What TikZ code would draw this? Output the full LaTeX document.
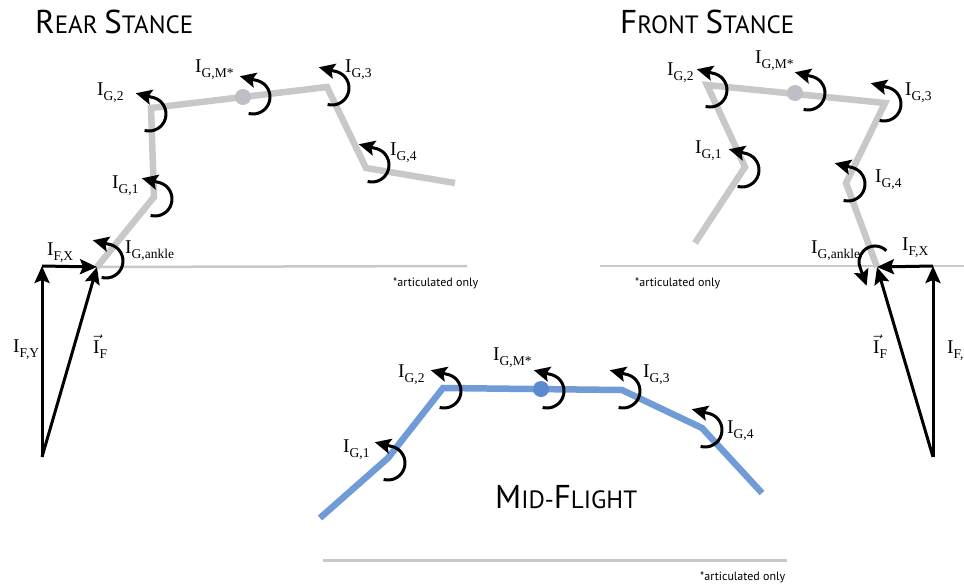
\documentclass[tikz,border=0pt]{standalone}
\usepackage{amsmath}
\usepackage{fontspec}
\setmainfont{Liberation Serif}
\newfontfamily\titlefont{PT Sans}
\usetikzlibrary{arrows.meta}

\definecolor{limbgray}{RGB}{200,200,200}
\definecolor{massgray}{RGB}{190,190,198}
\definecolor{flightblue}{RGB}{112,155,214}
\definecolor{massblue}{RGB}{92,138,206}

% impulse labels: I with a low subscript
\newcommand{\lowsub}[1]{\raisebox{-5pt}{\fontsize{13.5}{14}\selectfont #1}}
\newcommand{\imp}[1]{I\lowsub{#1}}
\newcommand{\fakesc}[2]{{\fontsize{33}{33}\selectfont #1}{\fontsize{25}{25}\selectfont #2}}
% curved moment arrow round a joint
\newcommand{\jointmoment}[1]{\draw[moment] (#1) ++(-105:17pt) arc[start angle=-105,end angle=72,radius=17pt] -- ++(166:19pt);}

\tikzset{
  limb/.style={draw=limbgray, line width=6.5pt},
  flight/.style={draw=flightblue, line width=6.5pt},
  ground/.style={draw=limbgray, line width=2.5pt},
  force/.style={line width=3pt, -{Stealth[length=17pt,width=15pt,inset=3pt]}},
  moment/.style={line width=3pt, -{Stealth[length=16pt,width=15pt,inset=3pt]}},
  lbl/.style={anchor=base west, inner sep=0pt, font=\fontsize{19.5}{20}\selectfont},
  title/.style={anchor=base west, inner sep=0pt, font=\titlefont\fontsize{25}{30}\selectfont},
  note/.style={anchor=base west, inner sep=0pt, font=\titlefont\fontsize{12}{13}\selectfont},
}

\begin{document}
\begin{tikzpicture}[x=1pt,y=-1pt]
\useasboundingbox (0,0) rectangle (964,584);

%% rear stance
\coordinate (r0) at (97,267);
\coordinate (r1) at (154,197);
\coordinate (r2) at (151,108);
\coordinate (r3) at (327,87);
\coordinate (r4) at (366,168);
\coordinate (r5) at (455,183);
\coordinate (rm) at (243,97);
\coordinate (rg) at (467,266);
\coordinate (rfy) at (42,457);
\coordinate (rfx) at (42,266);

\node[title] (rtitle) at (35,33) {\fakesc{R}{EAR} \fakesc{S}{TANCE}};
\draw[ground] (r0) -- (rg);
\node[note] (rnote) at (393,286) {*articulated only};
\draw[limb] (r0) -- (r1) -- (r2) -- (r3) -- (r4) -- (r5);
\fill[massgray] (rm) circle[radius=8pt];

\jointmoment{106,261}
\jointmoment{155,199}
\jointmoment{149,114}
\jointmoment{253,97}
\jointmoment{332,88}
\jointmoment{372,165}

\draw[force] (rfy) -- (rfx);
\draw[force] (rfx) -- (r0);
\draw[force] (rfy) -- (r0);

\node[lbl] (rFX) at (47,255) {\imp{F,X}};
\node[lbl] (rFY) at (13,352) {\imp{F,Y}};
\node[lbl] (rF) at (93,353) {$\vec{\text{I}}$\lowsub{F}};
\node[lbl] (rGa) at (125,253) {\imp{G,ankle}};
\node[lbl] (rG1) at (112,188) {\imp{G,1}};
\node[lbl] (rG2) at (97,95) {\imp{G,2}};
\node[lbl] (rGM) at (195,72) {\imp{G,M*}};
\node[lbl] (rG3) at (345,72) {\imp{G,3}};
\node[lbl] (rG4) at (390,155) {\imp{G,4}};

%% front stance
\coordinate (f0) at (877,267);
\coordinate (f4) at (846,183);
\coordinate (f3) at (885,103);
\coordinate (f2) at (707,85);
\coordinate (f1) at (745,167);
\coordinate (fe) at (695,243);
\coordinate (fm) at (795,93);
\coordinate (fg1) at (600,266);
\coordinate (fg2) at (964,266);
\coordinate (ffy) at (933,457);
\coordinate (ffx) at (933,266);

\node[title] (ftitle) at (620,33) {\fakesc{F}{RONT} \fakesc{S}{TANCE}};
\draw[ground] (fg1) -- (fg2);
\node[note] (fnote) at (635,286) {*articulated only};
\draw[limb] (fe) -- (f1) -- (f2) -- (f3) -- (f4) -- (f0);
\fill[massgray] (fm) circle[radius=8pt];

\jointmoment{710,90}
\jointmoment{808,93}
\jointmoment{884,104}
\jointmoment{742,170}
\jointmoment{848,184}
\draw[moment] (875,262) ++(45:16pt) arc[start angle=45,end angle=205,radius=16pt] -- ++(290:18pt);

\draw[force] (ffy) -- (ffx);
\draw[force] (ffx) -- (f0);
\draw[force] (ffy) -- (f0);

\node[lbl] (fFX) at (902,250) {\imp{F,X}};
\node[lbl] (fFY) at (947,353) {\imp{F,Y}};
\node[lbl] (fF) at (873,353) {$\vec{\text{I}}$\lowsub{F}};
\node[lbl] (fGa) at (811,253) {\imp{G,ankle}};
\node[lbl] (fG1) at (695,153) {\imp{G,1}};
\node[lbl] (fG2) at (667,75) {\imp{G,2}};
\node[lbl] (fGM) at (755,63) {\imp{G,M*}};
\node[lbl] (fG3) at (905,95) {\imp{G,3}};
\node[lbl] (fG4) at (875,182) {\imp{G,4}};

%% mid-flight
\coordinate (m0) at (320,518);
\coordinate (m1) at (388,458);
\coordinate (m2) at (443,388);
\coordinate (m3) at (622,390);
\coordinate (m4) at (702,428);
\coordinate (m5) at (762,493);
\coordinate (mm) at (541,389);
\coordinate (mg1) at (323,560);
\coordinate (mg2) at (787,560);

\node[title] (mtitle) at (495,508) {\fakesc{M}{ID-}\fakesc{F}{LIGHT}};
\draw[ground, line width=3pt] (mg1) -- (mg2);
\node[note] (mnote) at (700,580) {*articulated only};
\draw[flight] (m0) -- (m1) -- (m2) -- (m3) -- (m4) -- (m5);
\fill[massblue] (mm) circle[radius=8pt];

\jointmoment{388,463}
\jointmoment{444,391}
\jointmoment{547,391}
\jointmoment{623,391}
\jointmoment{705,430}

\node[lbl] (mG1) at (343,452) {\imp{G,1}};
\node[lbl] (mG2) at (398,377) {\imp{G,2}};
\node[lbl] (mGM) at (493,360) {\imp{G,M*}};
\node[lbl] (mG3) at (643,377) {\imp{G,3}};
\node[lbl] (mG4) at (727,433) {\imp{G,4}};
\end{tikzpicture}
\end{document}
